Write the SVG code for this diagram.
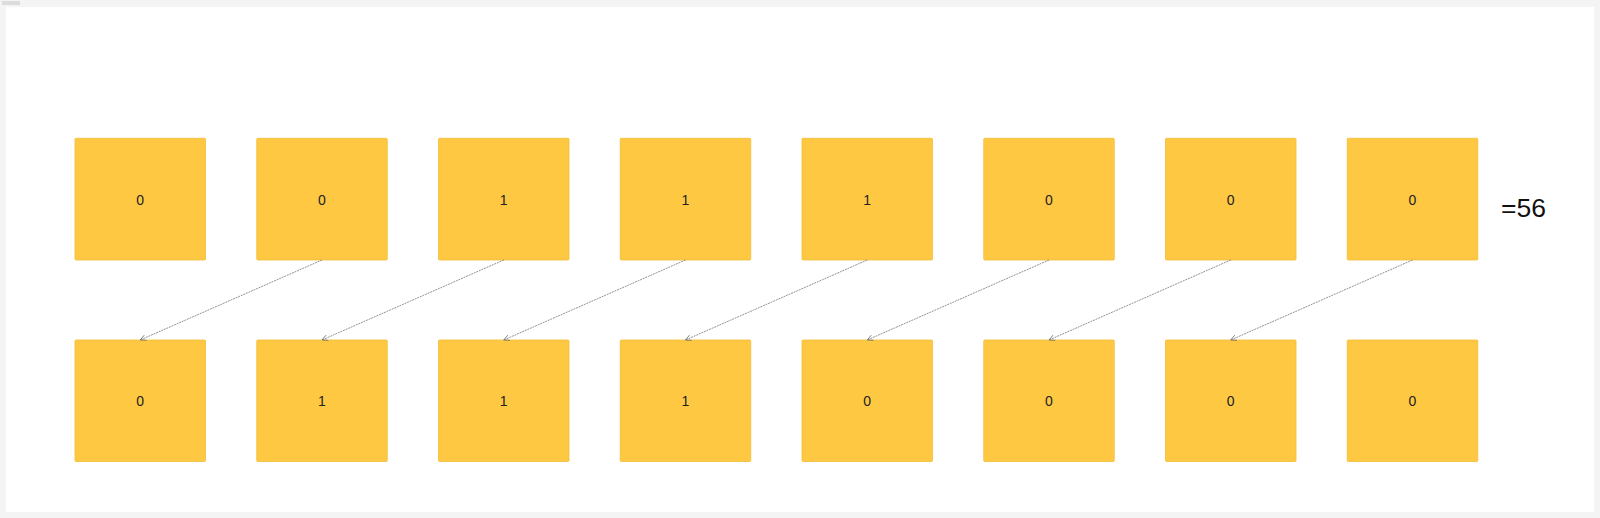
<svg xmlns="http://www.w3.org/2000/svg" width="1600" height="518" viewBox="0 0 1600 518">
<style>
.box{fill:#FEC843;stroke:#F3BC36;stroke-width:0.8}
.lbl{font-family:"Liberation Sans",Arial,sans-serif;font-size:14px;fill:#222;text-anchor:middle}
.conn{stroke:#777;stroke-width:0.8;stroke-dasharray:2 0.8;fill:none}
.res{font-family:"Liberation Sans",Arial,sans-serif;font-size:26.5px;fill:#111}
</style>
<defs>
<marker id="ah" viewBox="0 0 10 10" refX="9" refY="5" markerWidth="7" markerHeight="7" markerUnits="userSpaceOnUse" orient="auto">
<path d="M1,1 L9,5 L1,9" fill="none" stroke="#777" stroke-width="1.2"/>
</marker>
</defs>
<rect x="0" y="0" width="1600" height="518" fill="#f4f4f4"/>
<rect x="6" y="7" width="1588" height="505" fill="#ffffff"/>
<rect x="2" y="1" width="18" height="4" fill="#dcdcdc"/>
<g id="top-row">
<g id="t1"><rect class="box" x="75" y="138.3" width="130.5" height="121.7" rx="1"/><text class="lbl" x="140.25" y="204.5">0</text></g>
<g id="t2"><rect class="box" x="256.75" y="138.3" width="130.5" height="121.7" rx="1"/><text class="lbl" x="322" y="204.5">0</text></g>
<g id="t3"><rect class="box" x="438.5" y="138.3" width="130.5" height="121.7" rx="1"/><text class="lbl" x="503.75" y="204.5">1</text></g>
<g id="t4"><rect class="box" x="620.25" y="138.3" width="130.5" height="121.7" rx="1"/><text class="lbl" x="685.5" y="204.5">1</text></g>
<g id="t5"><rect class="box" x="802" y="138.3" width="130.5" height="121.7" rx="1"/><text class="lbl" x="867.25" y="204.5">1</text></g>
<g id="t6"><rect class="box" x="983.75" y="138.3" width="130.5" height="121.7" rx="1"/><text class="lbl" x="1049" y="204.5">0</text></g>
<g id="t7"><rect class="box" x="1165.5" y="138.3" width="130.5" height="121.7" rx="1"/><text class="lbl" x="1230.75" y="204.5">0</text></g>
<g id="t8"><rect class="box" x="1347.25" y="138.3" width="130.5" height="121.7" rx="1"/><text class="lbl" x="1412.5" y="204.5">0</text></g>
</g>
<g id="bottom-row">
<g id="b1"><rect class="box" x="75" y="340" width="130.5" height="121.5" rx="1"/><text class="lbl" x="140.25" y="406">0</text></g>
<g id="b2"><rect class="box" x="256.75" y="340" width="130.5" height="121.5" rx="1"/><text class="lbl" x="322" y="406">1</text></g>
<g id="b3"><rect class="box" x="438.5" y="340" width="130.5" height="121.5" rx="1"/><text class="lbl" x="503.75" y="406">1</text></g>
<g id="b4"><rect class="box" x="620.25" y="340" width="130.5" height="121.5" rx="1"/><text class="lbl" x="685.5" y="406">1</text></g>
<g id="b5"><rect class="box" x="802" y="340" width="130.5" height="121.5" rx="1"/><text class="lbl" x="867.25" y="406">0</text></g>
<g id="b6"><rect class="box" x="983.75" y="340" width="130.5" height="121.5" rx="1"/><text class="lbl" x="1049" y="406">0</text></g>
<g id="b7"><rect class="box" x="1165.5" y="340" width="130.5" height="121.5" rx="1"/><text class="lbl" x="1230.75" y="406">0</text></g>
<g id="b8"><rect class="box" x="1347.25" y="340" width="130.5" height="121.5" rx="1"/><text class="lbl" x="1412.5" y="406">0</text></g>
</g>
<g id="connectors">
<line class="conn" x1="322" y1="260" x2="140.25" y2="340" marker-end="url(#ah)"/>
<line class="conn" x1="503.75" y1="260" x2="322" y2="340" marker-end="url(#ah)"/>
<line class="conn" x1="685.5" y1="260" x2="503.75" y2="340" marker-end="url(#ah)"/>
<line class="conn" x1="867.25" y1="260" x2="685.5" y2="340" marker-end="url(#ah)"/>
<line class="conn" x1="1049" y1="260" x2="867.25" y2="340" marker-end="url(#ah)"/>
<line class="conn" x1="1230.75" y1="260" x2="1049" y2="340" marker-end="url(#ah)"/>
<line class="conn" x1="1412.5" y1="260" x2="1230.75" y2="340" marker-end="url(#ah)"/>
</g>
<g id="result"><text class="res" x="1501" y="216.5">=56</text></g>
</svg>
